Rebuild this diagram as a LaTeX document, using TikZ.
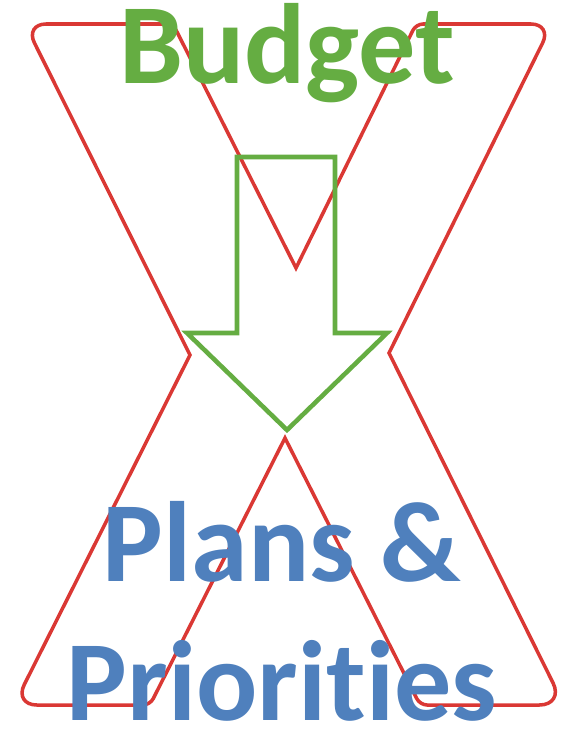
\documentclass[tikz,border=0pt]{standalone}
\usepackage{fontspec}
\setmainfont{Carlito}[Ligatures=NoCommon]
\usepackage{xcolor}
\definecolor{xred}{RGB}{218,56,52}
\definecolor{bgreen}{RGB}{101,173,66}
\definecolor{pblue}{RGB}{79,128,189}

\begin{document}
\begin{tikzpicture}[x=0.02cm,y=-0.02cm,
xline/.style={xred,line width=2pt,line join=miter},
arrowline/.style={bgreen,line width=2.6pt,line join=miter},
bigword/.style={font=\fontsize{65}{80}\selectfont\bfseries,inner sep=0pt,anchor=base}]
\useasboundingbox (0,0) rectangle (565,730);
% the X
\draw[xline](190,355)[rounded corners=12pt]--(25,24)[rounded corners=4pt]--(173,24)[sharp corners]--(296,268)
[rounded corners=4pt]--(416,24)[rounded corners=12pt]--(552,24)[sharp corners]--(389,353)
[rounded corners=14pt]--(564,705)[rounded corners=4pt]--(420,705)[sharp corners]--(285,438)
[rounded corners=4pt]--(150,705)[rounded corners=13pt]--(14,705)[sharp corners]--cycle;
% the arrow
\draw[arrowline](237,157)--(335,157)--(335,333)--(387,333)--(287,430)--(187,333)--(237,333)--cycle;
% the words
\node[bigword,bgreen] (budget) at (287,83) {Budget};
\node[bigword,pblue] (plans) at (282,581) {Plans \&};
\node[bigword,pblue] (prio) at (282,720) {Priorities};
\end{tikzpicture}
\end{document}
